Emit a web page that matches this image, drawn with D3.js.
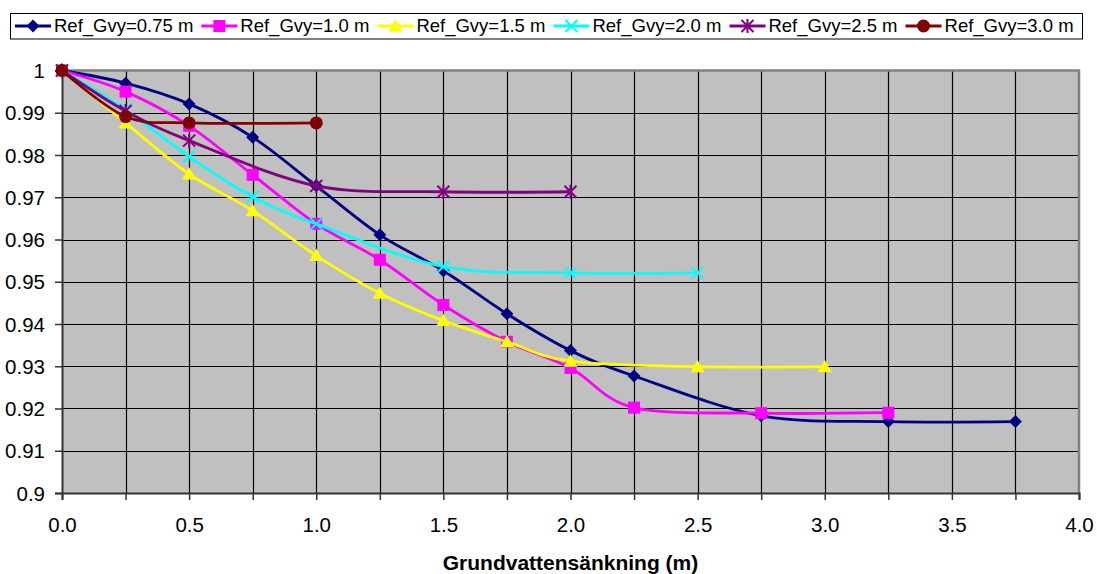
<!DOCTYPE html>
<html>
<head>
<meta charset="utf-8">
<script src="https://cdn.jsdelivr.net/npm/d3@7"></script>
<style>
  html, body { margin: 0; padding: 0; background: #ffffff; }
  svg { display: block; font-family: "Liberation Sans", Arial, sans-serif; }
</style>
</head>
<body>
<svg id="chart" width="1097" height="574"></svg>
<script>
// Relative values versus groundwater lowering, one series per reference level
const seriesNames = ["Ref_Gvy=0.75 m", "Ref_Gvy=1.0 m", "Ref_Gvy=1.5 m", "Ref_Gvy=2.0 m", "Ref_Gvy=2.5 m", "Ref_Gvy=3.0 m"];

const x075 = [0, 0.25, 0.5, 0.75, 1.0, 1.25, 1.5, 1.75, 2.0, 2.25, 2.75, 3.25, 3.75];
const y075 = [1, 0.9970, 0.9921, 0.9842, 0.9727, 0.9611, 0.9526, 0.9424, 0.9337, 0.9277, 0.9183, 0.9169, 0.9169];

const x10 = [0, 0.25, 0.5, 0.75, 1.0, 1.25, 1.5, 1.75, 2.0, 2.25, 2.75, 3.25];
const y10 = [1, 0.9950, 0.9869, 0.9753, 0.9637, 0.9552, 0.9445, 0.9358, 0.9296, 0.9202, 0.9189, 0.9190];

const x15 = [0, 0.25, 0.5, 0.75, 1.0, 1.25, 1.5, 1.75, 2.0, 2.5, 3.0];
const y15 = [1, 0.9876, 0.9755, 0.9668, 0.9562, 0.9473, 0.9408, 0.9358, 0.9312, 0.9299, 0.9299];

const x20 = [0, 0.25, 0.5, 0.75, 1.0, 1.5, 2.0, 2.5];
const y20 = [1, 0.9907, 0.9796, 0.9701, 0.9637, 0.9536, 0.9521, 0.9521];

const x25 = [0, 0.25, 0.5, 1.0, 1.5, 2.0];
const y25 = [1, 0.9904, 0.9834, 0.9727, 0.9713, 0.9713];

const x30 = [0, 0.25, 0.5, 1.0];
const y30 = [1, 0.9891, 0.9876, 0.9876];

const xTicks = [0, 0.5, 1.0, 1.5, 2.0, 2.5, 3.0, 3.5, 4.0];
const yTicks = [0.9, 0.91, 0.92, 0.93, 0.94, 0.95, 0.96, 0.97, 0.98, 0.99, 1];
const xTitle = "Grundvattensänkning (m)";

const seriesX = [x075, x10, x15, x20, x25, x30];
const seriesY = [y075, y10, y15, y20, y25, y30];
const colors = ["#000080", "#ff00ff", "#ffff00", "#00ffff", "#800080", "#800000"];
const markers = ["diamond", "square", "triangle", "cross", "star", "circle"];

const svg = d3.select("#chart");
const plot = { left: 62, right: 1079, top: 70.5, bottom: 493 };

const x = d3.scaleLinear().domain([0, 4]).range([plot.left, plot.right]);
const y = d3.scaleLinear().domain([0.9, 1]).range([plot.bottom, plot.top]);

// plot background
svg.append("rect")
  .attr("x", plot.left).attr("y", plot.top)
  .attr("width", plot.right - plot.left).attr("height", plot.bottom - plot.top)
  .attr("fill", "#c0c0c0");

// gridlines
const gridX = d3.range(1, 16).map(i => i * 0.25);
const gridY = d3.range(1, 10).map(i => 0.9 + i * 0.01);
svg.append("g").selectAll("line").data(gridX).join("line")
  .attr("x1", d => Math.round(x(d)) + 0.5).attr("x2", d => Math.round(x(d)) + 0.5)
  .attr("y1", plot.top).attr("y2", plot.bottom)
  .attr("stroke", "#000").attr("stroke-width", 1.2);
svg.append("g").selectAll("line").data(gridY).join("line")
  .attr("y1", d => Math.round(y(d)) + 0.5).attr("y2", d => Math.round(y(d)) + 0.5)
  .attr("x1", plot.left).attr("x2", plot.right)
  .attr("stroke", "#000").attr("stroke-width", 1.2);

// plot border (top and right)
svg.append("path")
  .attr("d", `M${plot.left},${plot.top}H${plot.right}V${plot.bottom}`)
  .attr("fill", "none").attr("stroke", "#808080").attr("stroke-width", 2.5);

// axes
const xAxis = d3.axisBottom(x)
  .tickValues(d3.range(0, 17).map(i => i * 0.25))
  .tickSize(7)
  .tickFormat(d => xTicks.includes(d) ? d3.format(".1f")(d) : "");
const gx = svg.append("g").attr("transform", `translate(0,${plot.bottom})`).call(xAxis);
gx.select(".domain").attr("stroke", "#333").attr("stroke-width", 2);
gx.selectAll(".tick line").attr("stroke", "#333").attr("stroke-width", 1.5);
gx.selectAll(".tick text")
  .attr("font-size", 20.5).attr("fill", "#000")
  .attr("font-family", "'Liberation Sans', Arial, sans-serif")
  .attr("dy", null).attr("y", 39);

const yAxis = d3.axisLeft(y)
  .tickValues(yTicks)
  .tickSize(7)
  .tickFormat(d => d3.format("")(+d.toFixed(2)));
const gy = svg.append("g").attr("transform", `translate(${plot.left},0)`).call(yAxis);
gy.select(".domain").attr("stroke", "#333").attr("stroke-width", 2);
gy.selectAll(".tick line").attr("stroke", "#333").attr("stroke-width", 1.5);
gy.selectAll(".tick text")
  .attr("font-size", 20.5).attr("fill", "#000")
  .attr("font-family", "'Liberation Sans', Arial, sans-serif")
  .attr("dy", "0.35em").attr("x", -17);

// axis title
svg.append("text")
  .attr("x", (plot.left + plot.right) / 2).attr("y", 570)
  .attr("text-anchor", "middle")
  .attr("font-size", 21).attr("font-weight", "bold")
  .text(xTitle);

// marker shapes
function drawMarker(g, kind, color, cx, cy) {
  if (kind === "diamond") {
    g.append("path").attr("d", `M${cx},${cy - 6.5}L${cx + 6.5},${cy}L${cx},${cy + 6.5}L${cx - 6.5},${cy}Z`)
      .attr("fill", color);
  } else if (kind === "square") {
    g.append("rect").attr("x", cx - 6).attr("y", cy - 6).attr("width", 12).attr("height", 12)
      .attr("fill", color);
  } else if (kind === "triangle") {
    g.append("path").attr("d", `M${cx},${cy - 7}L${cx + 7},${cy + 5.5}L${cx - 7},${cy + 5.5}Z`)
      .attr("fill", color);
  } else if (kind === "cross") {
    g.append("path").attr("d", `M${cx - 6},${cy - 6}L${cx + 6},${cy + 6}M${cx + 6},${cy - 6}L${cx - 6},${cy + 6}`)
      .attr("stroke", color).attr("stroke-width", 2).attr("fill", "none");
  } else if (kind === "star") {
    g.append("path").attr("d", `M${cx - 6},${cy - 6}L${cx + 6},${cy + 6}M${cx + 6},${cy - 6}L${cx - 6},${cy + 6}M${cx},${cy - 7}V${cy + 7}`)
      .attr("stroke", color).attr("stroke-width", 2).attr("fill", "none");
  } else {
    g.append("circle").attr("cx", cx).attr("cy", cy).attr("r", 6.5).attr("fill", color);
  }
}

// smoothed series
const line = d3.line()
  .x(d => x(d[0])).y(d => y(d[1]))
  .curve(d3.curveCardinal.tension(0));

seriesNames.forEach((name, i) => {
  const pts = seriesX[i].map((v, j) => [v, seriesY[i][j]]);
  const g = svg.append("g");
  g.append("path").datum(pts)
    .attr("d", line)
    .attr("fill", "none")
    .attr("stroke", colors[i])
    .attr("stroke-width", 2.8)
    .attr("stroke-linejoin", "round");
  pts.forEach(p => drawMarker(g, markers[i], colors[i], x(p[0]), y(p[1])));
});

// legend
const legend = svg.append("g");
legend.append("rect")
  .attr("x", 10.5).attr("y", 13.5).attr("width", 1072).attr("height", 25.5)
  .attr("fill", "#fff").attr("stroke", "#000").attr("stroke-width", 1);
let lx = 15;
const ly = 26;
seriesNames.forEach((name, i) => {
  const g = legend.append("g");
  g.append("line").attr("x1", lx).attr("x2", lx + 36).attr("y1", ly).attr("y2", ly)
    .attr("stroke", colors[i]).attr("stroke-width", 2.8);
  drawMarker(g, markers[i], colors[i], lx + 18, ly);
  const t = g.append("text").attr("x", lx + 39).attr("y", ly).attr("dy", "0.35em")
    .attr("font-size", 18.5).attr("fill", "#000").text(name);
  lx += 39 + t.node().getComputedTextLength() + 8;
});
</script>
</body>
</html>
